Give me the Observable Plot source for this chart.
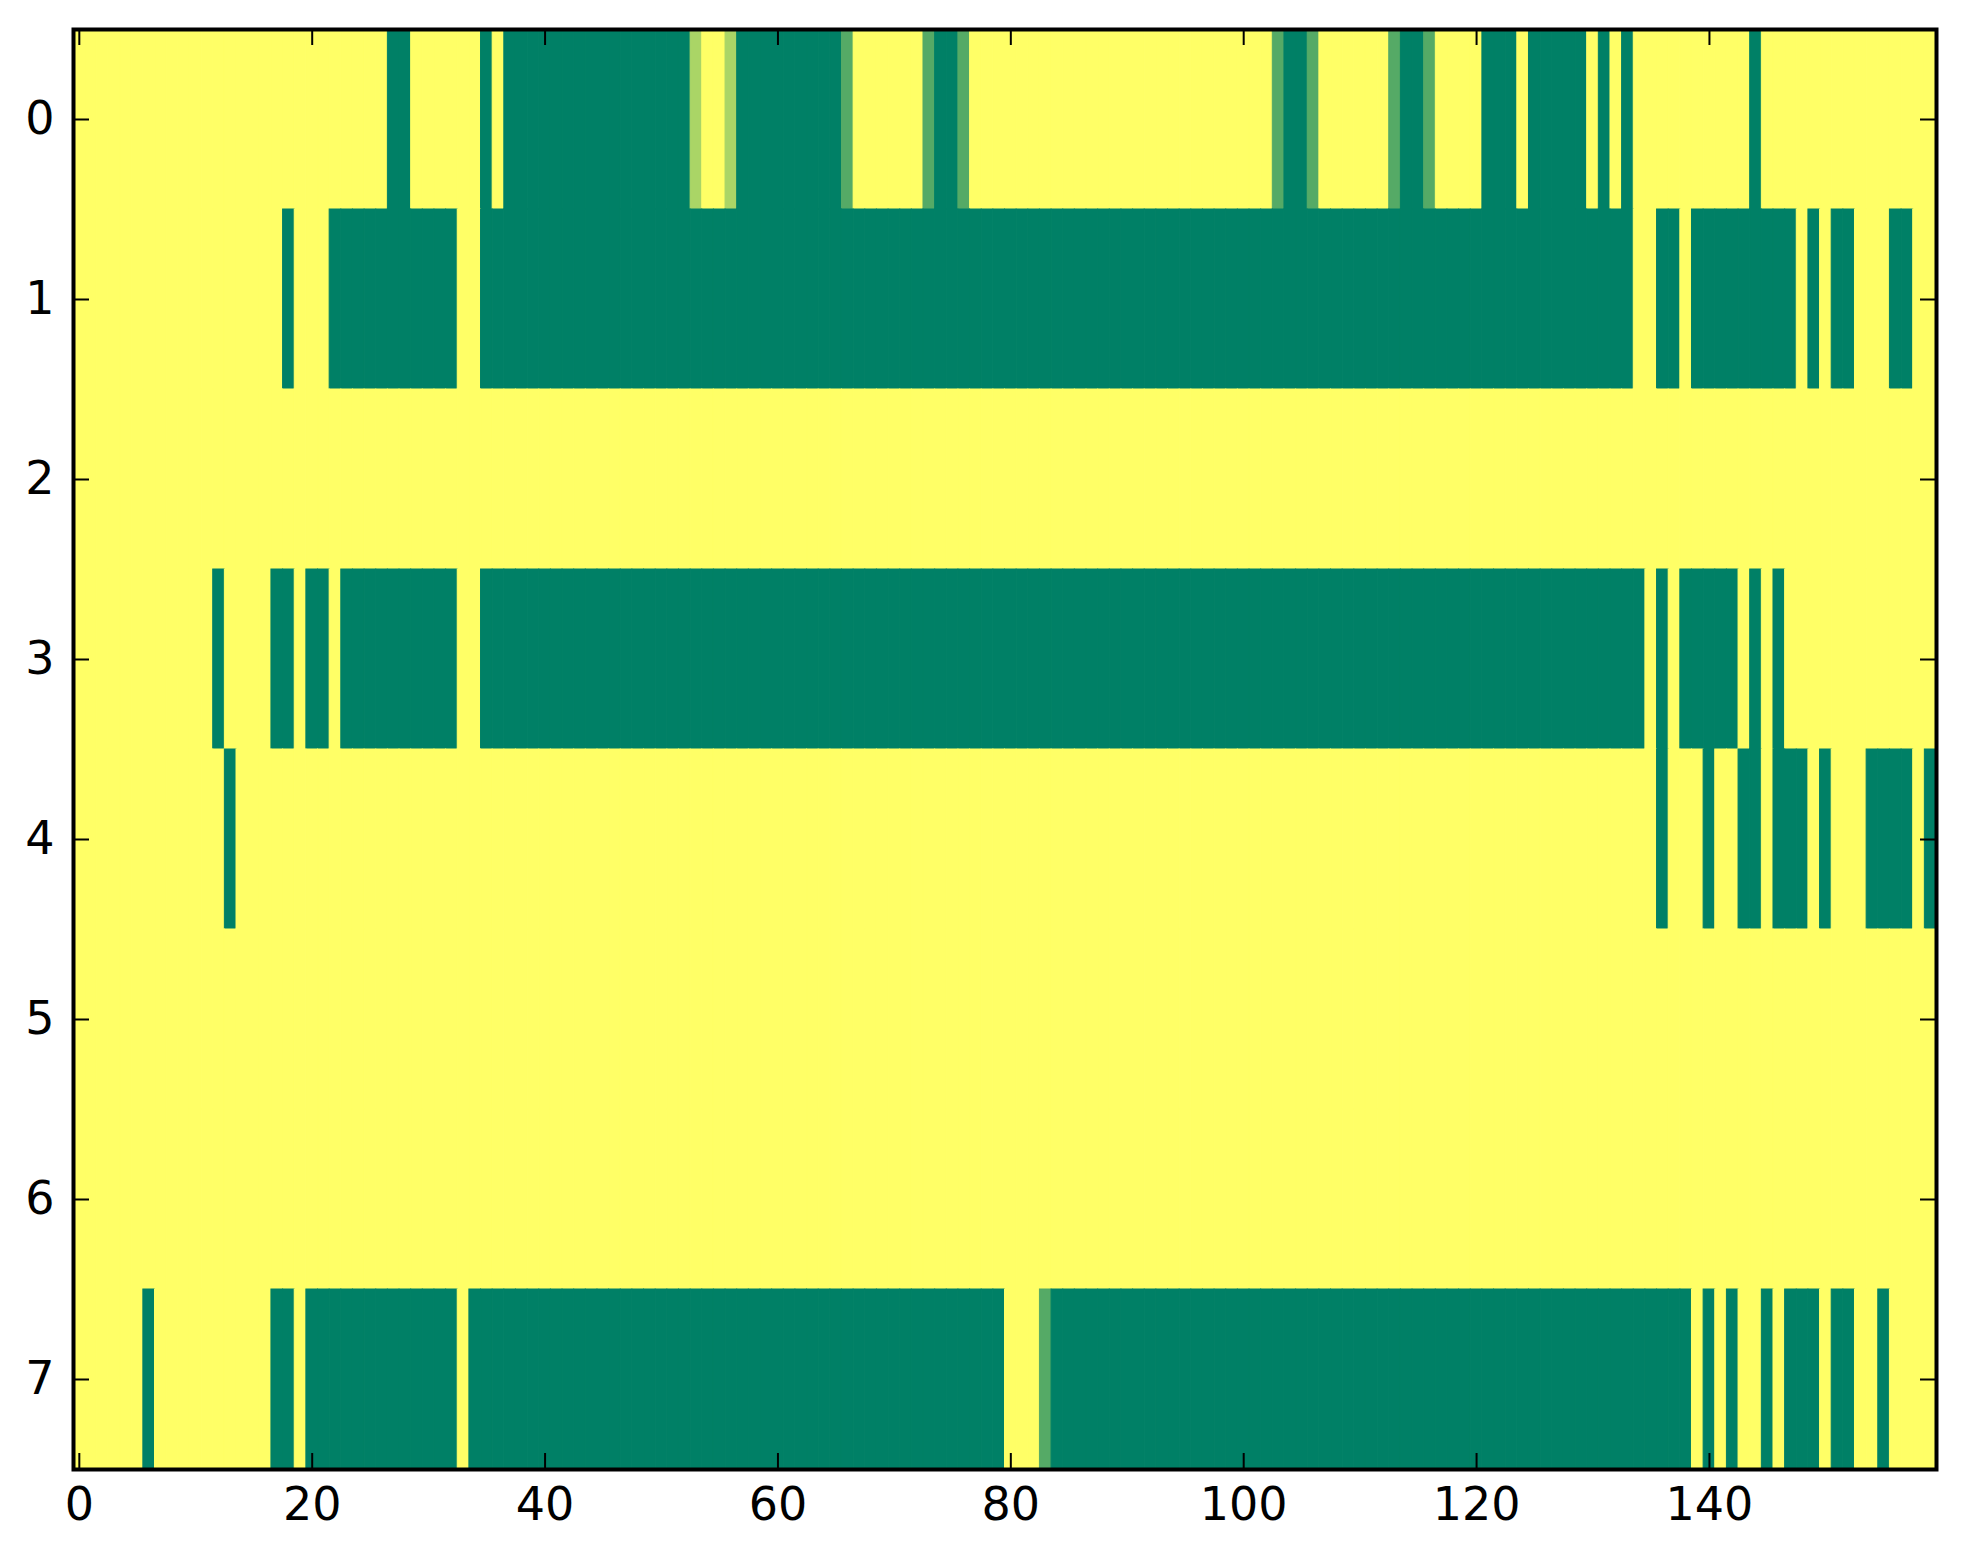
<!DOCTYPE html>
<html>
<head>
<meta charset="utf-8">
<script src="https://cdn.jsdelivr.net/npm/d3@7"></script>
<script src="https://cdn.jsdelivr.net/npm/@observablehq/plot@0.6"></script>
<style>
  html, body { margin: 0; padding: 0; background: #fff; }
</style>
</head>
<body>
<div id="chart"></div>
<script>
// Heatmap values (rows 0..7, columns 0..159), 0 = yellow, 1 = green
const row0 = [
  0,0,0,0,0,0,0,0,0,0, 0,0,0,0,0,0,0,0,0,0,
  0,0,0,0,0,0,0,1,1,0, 0,0,0,0,0,1,0,1,1,1,
  1,1,1,1,1,1,1,1,1,1, 1,1,1,0.333,0,0,0.333,1,1,1,
  1,1,1,1,1,1,0.667,0,0,0, 0,0,0,0.667,1,1,0.667,0,0,0,
  0,0,0,0,0,0,0,0,0,0, 0,0,0,0,0,0,0,0,0,0,
  0,0,0,0.667,1,1,0.667,0,0,0, 0,0,0,0.667,1,1,0.667,0,0,0,
  0,1,1,1,0,1,1,1,1,1, 0,1,0,1,0,0,0,0,0,0,
  0,0,0,0,1,0,0,0,0,0, 0,0,0,0,0,0,0,0,0,0
];
const row1 = [
  0,0,0,0,0,0,0,0,0,0, 0,0,0,0,0,0,0,0,1,0,
  0,0,1,1,1,1,1,1,1,1, 1,1,1,0,0,1,1,1,1,1,
  1,1,1,1,1,1,1,1,1,1, 1,1,1,1,1,1,1,1,1,1,
  1,1,1,1,1,1,1,1,1,1, 1,1,1,1,1,1,1,1,1,1,
  1,1,1,1,1,1,1,1,1,1, 1,1,1,1,1,1,1,1,1,1,
  1,1,1,1,1,1,1,1,1,1, 1,1,1,1,1,1,1,1,1,1,
  1,1,1,1,1,1,1,1,1,1, 1,1,1,1,0,0,1,1,0,1,
  1,1,1,1,1,1,1,1,0,1, 0,1,1,0,0,0,1,1,0,0
];
const row2 = [
  0,0,0,0,0,0,0,0,0,0, 0,0,0,0,0,0,0,0,0,0,
  0,0,0,0,0,0,0,0,0,0, 0,0,0,0,0,0,0,0,0,0,
  0,0,0,0,0,0,0,0,0,0, 0,0,0,0,0,0,0,0,0,0,
  0,0,0,0,0,0,0,0,0,0, 0,0,0,0,0,0,0,0,0,0,
  0,0,0,0,0,0,0,0,0,0, 0,0,0,0,0,0,0,0,0,0,
  0,0,0,0,0,0,0,0,0,0, 0,0,0,0,0,0,0,0,0,0,
  0,0,0,0,0,0,0,0,0,0, 0,0,0,0,0,0,0,0,0,0,
  0,0,0,0,0,0,0,0,0,0, 0,0,0,0,0,0,0,0,0,0
];
const row3 = [
  0,0,0,0,0,0,0,0,0,0, 0,0,1,0,0,0,0,1,1,0,
  1,1,0,1,1,1,1,1,1,1, 1,1,1,0,0,1,1,1,1,1,
  1,1,1,1,1,1,1,1,1,1, 1,1,1,1,1,1,1,1,1,1,
  1,1,1,1,1,1,1,1,1,1, 1,1,1,1,1,1,1,1,1,1,
  1,1,1,1,1,1,1,1,1,1, 1,1,1,1,1,1,1,1,1,1,
  1,1,1,1,1,1,1,1,1,1, 1,1,1,1,1,1,1,1,1,1,
  1,1,1,1,1,1,1,1,1,1, 1,1,1,1,1,0,1,0,1,1,
  1,1,1,0,1,0,1,0,0,0, 0,0,0,0,0,0,0,0,0,0
];
const row4 = [
  0,0,0,0,0,0,0,0,0,0, 0,0,0,1,0,0,0,0,0,0,
  0,0,0,0,0,0,0,0,0,0, 0,0,0,0,0,0,0,0,0,0,
  0,0,0,0,0,0,0,0,0,0, 0,0,0,0,0,0,0,0,0,0,
  0,0,0,0,0,0,0,0,0,0, 0,0,0,0,0,0,0,0,0,0,
  0,0,0,0,0,0,0,0,0,0, 0,0,0,0,0,0,0,0,0,0,
  0,0,0,0,0,0,0,0,0,0, 0,0,0,0,0,0,0,0,0,0,
  0,0,0,0,0,0,0,0,0,0, 0,0,0,0,0,0,1,0,0,0,
  1,0,0,1,1,0,1,1,1,0, 1,0,0,0,1,1,1,1,0,1
];
const row5 = [
  0,0,0,0,0,0,0,0,0,0, 0,0,0,0,0,0,0,0,0,0,
  0,0,0,0,0,0,0,0,0,0, 0,0,0,0,0,0,0,0,0,0,
  0,0,0,0,0,0,0,0,0,0, 0,0,0,0,0,0,0,0,0,0,
  0,0,0,0,0,0,0,0,0,0, 0,0,0,0,0,0,0,0,0,0,
  0,0,0,0,0,0,0,0,0,0, 0,0,0,0,0,0,0,0,0,0,
  0,0,0,0,0,0,0,0,0,0, 0,0,0,0,0,0,0,0,0,0,
  0,0,0,0,0,0,0,0,0,0, 0,0,0,0,0,0,0,0,0,0,
  0,0,0,0,0,0,0,0,0,0, 0,0,0,0,0,0,0,0,0,0
];
const row6 = [
  0,0,0,0,0,0,0,0,0,0, 0,0,0,0,0,0,0,0,0,0,
  0,0,0,0,0,0,0,0,0,0, 0,0,0,0,0,0,0,0,0,0,
  0,0,0,0,0,0,0,0,0,0, 0,0,0,0,0,0,0,0,0,0,
  0,0,0,0,0,0,0,0,0,0, 0,0,0,0,0,0,0,0,0,0,
  0,0,0,0,0,0,0,0,0,0, 0,0,0,0,0,0,0,0,0,0,
  0,0,0,0,0,0,0,0,0,0, 0,0,0,0,0,0,0,0,0,0,
  0,0,0,0,0,0,0,0,0,0, 0,0,0,0,0,0,0,0,0,0,
  0,0,0,0,0,0,0,0,0,0, 0,0,0,0,0,0,0,0,0,0
];
const row7 = [
  0,0,0,0,0,0,1,0,0,0, 0,0,0,0,0,0,0,1,1,0,
  1,1,1,1,1,1,1,1,1,1, 1,1,1,0,1,1,1,1,1,1,
  1,1,1,1,1,1,1,1,1,1, 1,1,1,1,1,1,1,1,1,1,
  1,1,1,1,1,1,1,1,1,1, 1,1,1,1,1,1,1,1,1,1,
  0,0,0,0.667,1,1,1,1,1,1, 1,1,1,1,1,1,1,1,1,1,
  1,1,1,1,1,1,1,1,1,1, 1,1,1,1,1,1,1,1,1,1,
  1,1,1,1,1,1,1,1,1,1, 1,1,1,1,1,1,1,1,1,0,
  1,0,1,0,0,1,0,1,1,1, 0,1,1,0,0,1,0,0,0,0
];
const rows = [row0, row1, row2, row3, row4, row5, row6, row7];

const xTicks = [0, 20, 40, 60, 80, 100, 120, 140];
const yTicks = [0, 1, 2, 3, 4, 5, 6, 7];

// Build a tidy table for the library
const cells = [];
rows.forEach((vals, r) => vals.forEach((v, c) => cells.push({row: r, col: c, v})));
const nCols = row0.length;
const nRows = rows.length;

const W = 1963, H = 1564;
const mL = 73, mR = 27, mT = 29, mB = 95;
const innerW = W - mL - mR, innerH = H - mT - mB;
const tick = 16;

const chart = Plot.plot({
  width: W,
  height: H,
  marginLeft: mL,
  marginRight: mR,
  marginTop: mT,
  marginBottom: mB,
  style: {fontFamily: "DejaVu Sans, sans-serif", fontSize: "46px", color: "black", background: "white"},
  x: {domain: [-0.5, nCols - 0.5], ticks: xTicks, tickSize: 0, tickPadding: 18, tickFormat: d => String(d), label: null},
  y: {domain: [-0.5, nRows - 0.5], reverse: true, ticks: yTicks, tickSize: 0, tickPadding: 19, tickFormat: d => String(d), label: null},
  color: {type: "linear", domain: [0, 1], range: ["#ffff66", "#008066"], interpolate: "rgb"},
  marks: [
    Plot.rect(cells, {
      x1: d => d.col - 0.5, x2: d => d.col + 0.5,
      y1: d => d.row - 0.5, y2: d => d.row + 0.5,
      fill: "v", stroke: "v", strokeWidth: 1
    }),
    // inward ticks on all four sides
    Plot.ruleX(xTicks, {x: d => d, insetTop: innerH - tick, stroke: "black", strokeWidth: 2}),
    Plot.ruleX(xTicks, {x: d => d, insetBottom: innerH - tick, stroke: "black", strokeWidth: 2}),
    Plot.ruleY(yTicks, {y: d => d, insetRight: innerW - tick, stroke: "black", strokeWidth: 2}),
    Plot.ruleY(yTicks, {y: d => d, insetLeft: innerW - tick, stroke: "black", strokeWidth: 2}),
    Plot.frame({stroke: "black", strokeWidth: 4})
  ]
});
document.getElementById("chart").appendChild(chart);
</script>
</body>
</html>
